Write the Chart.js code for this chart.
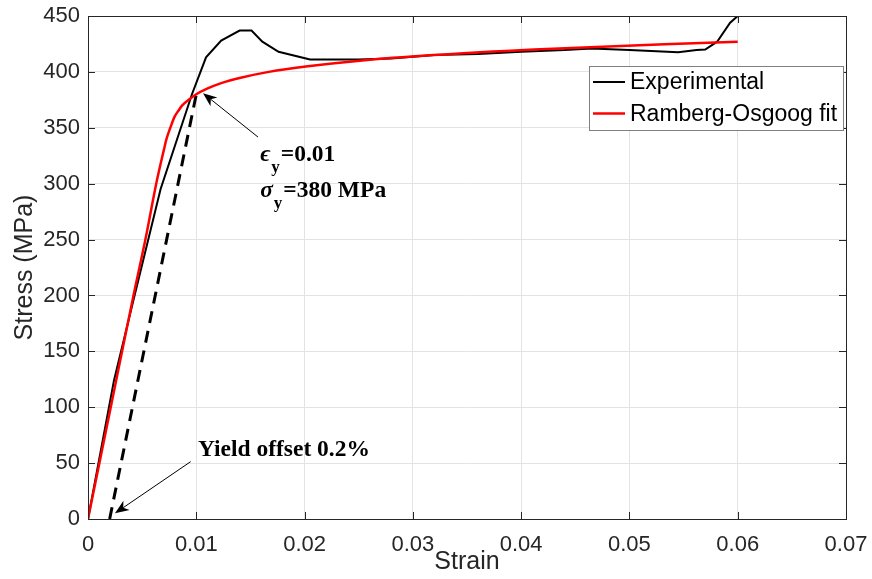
<!DOCTYPE html>
<html>
<head>
<meta charset="utf-8">
<script src="https://cdn.jsdelivr.net/npm/chart.js@4.4.0/dist/chart.umd.min.js"></script>
<style>
  html, body { margin: 0; padding: 0; background: #fff; }
  #wrap { width: 872px; height: 579px; position: relative; }
</style>
</head>
<body>
<div id="wrap"><canvas id="chart"></canvas></div>
<script>
// Experimental stress-strain curve
const expStrain = [0, 0.0024, 0.0042, 0.0067, 0.0096, 0.0109, 0.0123, 0.0140, 0.0151, 0.0161, 0.0176, 0.0205,
    0.0250, 0.0280, 0.0320, 0.0360, 0.0400, 0.0440, 0.0465, 0.0500, 0.0545, 0.0562, 0.0570, 0.0581, 0.0593, 0.0600];
const expStress = [0, 124, 196, 295, 380, 413, 428, 437, 437, 427, 418, 411,
    411, 412, 415, 416, 418, 419.5, 421, 419.5, 417.5, 419.5, 420, 427, 444, 450];

// Ramberg-Osgood fit
const fitStrain = [0, 0.0021, 0.0042, 0.0053, 0.0063, 0.00676, 0.0070, 0.00725, 0.0076, 0.0080, 0.00833, 0.0087,
    0.0093, 0.0100, 0.0110, 0.0123, 0.0142, 0.0167, 0.0203, 0.0251, 0.0319, 0.0412, 0.0539, 0.0600];
const fitStress = [0, 100, 200, 250, 300, 320, 330, 340, 350, 360, 365, 370,
    375, 380, 385, 390, 395, 400, 405, 410, 415, 420, 425, 427];

// 0.2% offset line up to the yield point
const offsetStrain = [0.002, 0.01];
const offsetStress = [0, 380];

const xTicks = [0, 0.01, 0.02, 0.03, 0.04, 0.05, 0.06, 0.07];
const xTickLabels = ['0', '0.01', '0.02', '0.03', '0.04', '0.05', '0.06', '0.07'];
const yTicks = [0, 50, 100, 150, 200, 250, 300, 350, 400, 450];
const yTickLabels = ['0', '50', '100', '150', '200', '250', '300', '350', '400', '450'];

const toPoints = (xs, ys) => xs.map((x, i) => ({ x: x, y: ys[i] }));

const AXIS = '#262626';
const SANS = '"Liberation Sans", Arial, sans-serif';
const SERIF = '"Liberation Serif", "DejaVu Serif", serif';

// annotation anchors in data units
const epsText = { at: [0.0159, 320.5], sym: 'ϵ', sub: 'y', rest: '=0.01' };
const sigText = { at: [0.0159, 288.3], sym: 'σ', sub: 'y', rest: '=380 MPa' };
const yieldText = { at: [0.01015, 56.5], text: 'Yield offset 0.2%' };
const arrows = [
    { from: [0.0157, 341.7], to: [0.01062, 381] },
    { from: [0.00948, 51.3], to: [0.00249, 5.1] }
];

function drawArrow(ctx, x1, y1, x2, y2) {
    const ang = Math.atan2(y2 - y1, x2 - x1);
    const len = 14, half = 5.5, notch = 10;
    ctx.beginPath();
    ctx.moveTo(x1, y1);
    ctx.lineTo(x2 - Math.cos(ang) * notch, y2 - Math.sin(ang) * notch);
    ctx.stroke();
    ctx.save();
    ctx.translate(x2, y2);
    ctx.rotate(ang);
    ctx.beginPath();
    ctx.moveTo(0, 0);
    ctx.lineTo(-len, -half);
    ctx.lineTo(-notch, 0);
    ctx.lineTo(-len, half);
    ctx.closePath();
    ctx.fill();
    ctx.restore();
}

function drawSubLabel(ctx, x, y, t) {
    ctx.font = 'italic bold 23.5px ' + SERIF;
    ctx.fillText(t.sym, x, y);
    x += ctx.measureText(t.sym).width + 1;
    ctx.font = 'bold 17px ' + SERIF;
    ctx.fillText(t.sub, x, y + 11);
    x += ctx.measureText(t.sub).width + 1;
    ctx.font = 'bold 23.5px ' + SERIF;
    ctx.fillText(t.rest, x, y);
}

// box, inward ticks, annotations and legend
const extras = {
    id: 'extras',
    afterDatasetsDraw(chart) {
        const { ctx, chartArea: a, scales } = chart;
        const sx = scales.x, sy = scales.y;
        const tick = 7;
        ctx.save();
        ctx.strokeStyle = AXIS;
        ctx.lineWidth = 1;
        ctx.beginPath();
        xTicks.forEach(v => {
            const px = Math.round(sx.getPixelForValue(v)) + 0.5;
            ctx.moveTo(px, a.bottom); ctx.lineTo(px, a.bottom - tick);
            ctx.moveTo(px, a.top); ctx.lineTo(px, a.top + tick);
        });
        yTicks.forEach(v => {
            const py = Math.round(sy.getPixelForValue(v)) + 0.5;
            ctx.moveTo(a.left, py); ctx.lineTo(a.left + tick, py);
            ctx.moveTo(a.right, py); ctx.lineTo(a.right - tick, py);
        });
        ctx.stroke();
        ctx.strokeRect(Math.round(a.left) + 0.5, Math.round(a.top) + 0.5,
            Math.round(a.right - a.left), Math.round(a.bottom - a.top));

        // arrows
        ctx.strokeStyle = '#000';
        ctx.fillStyle = '#000';
        ctx.lineWidth = 1;
        arrows.forEach(ar => {
            drawArrow(ctx, sx.getPixelForValue(ar.from[0]), sy.getPixelForValue(ar.from[1]),
                sx.getPixelForValue(ar.to[0]), sy.getPixelForValue(ar.to[1]));
        });

        // text labels
        ctx.textBaseline = 'alphabetic';
        ctx.textAlign = 'left';
        [epsText, sigText].forEach(t => {
            drawSubLabel(ctx, sx.getPixelForValue(t.at[0]), sy.getPixelForValue(t.at[1]), t);
        });
        ctx.font = 'bold 23.5px ' + SERIF;
        ctx.fillText(yieldText.text, sx.getPixelForValue(yieldText.at[0]), sy.getPixelForValue(yieldText.at[1]));

        // legend
        const items = chart.data.datasets.filter(d => d.legendPos !== undefined)
            .sort((p, q) => p.legendPos - q.legendPos);
        const bx = a.right - 257, by = a.top + 50, bw = 254, bh = 64;
        ctx.fillStyle = '#fff';
        ctx.fillRect(bx, by, bw, bh);
        ctx.strokeStyle = '#808080';
        ctx.strokeRect(bx + 0.5, by + 0.5, bw, bh);
        ctx.font = '23px ' + SANS;
        ctx.textBaseline = 'middle';
        items.forEach((d, i) => {
            const ly = by + 16 + i * 31.5;
            ctx.strokeStyle = d.borderColor;
            ctx.lineWidth = d.borderWidth;
            ctx.beginPath();
            ctx.moveTo(bx + 4, ly);
            ctx.lineTo(bx + 36, ly);
            ctx.stroke();
            ctx.fillStyle = '#000';
            ctx.fillText(d.label, bx + 41, ly + 1);
        });
        ctx.restore();
    }
};

new Chart(document.getElementById('chart'), {
    type: 'scatter',
    data: {
        datasets: [
            {
                label: 'Ramberg-Osgoog fit', data: toPoints(fitStrain, fitStress), showLine: true, legendPos: 1,
                borderColor: '#ff0000', borderWidth: 2.5, pointRadius: 0, cubicInterpolationMode: 'monotone', order: 0
            },
            {
                label: 'Experimental', data: toPoints(expStrain, expStress), showLine: true, legendPos: 0,
                borderColor: '#000000', borderWidth: 2, pointRadius: 0, tension: 0, order: 1
            },
            {
                label: 'offset', data: toPoints(offsetStrain, offsetStress), showLine: true,
                borderColor: '#000000', borderWidth: 3, borderDash: [12, 8], pointRadius: 0, order: 2
            }
        ]
    },
    options: {
        responsive: true,
        maintainAspectRatio: false,
        animation: false,
        events: [],
        layout: { padding: { top: 16, right: 26, left: 0, bottom: 0 } },
        plugins: { legend: { display: false }, tooltip: { enabled: false } },
        scales: {
            x: {
                type: 'linear', min: 0, max: 0.07,
                afterBuildTicks: s => { s.ticks = xTicks.map(v => ({ value: v })); },
                afterFit: s => { s.height = 60; s.paddingLeft = 0; s.paddingRight = 0; },
                ticks: {
                    callback: (v, i) => xTickLabels[i],
                    color: AXIS, font: { family: SANS, size: 22 }, padding: 13, maxRotation: 0
                },
                grid: { color: '#e3e3e3', drawTicks: false },
                border: { display: true, color: AXIS },
                title: { display: true, text: 'Strain', color: AXIS, font: { family: SANS, size: 25 }, padding: { top: 0, bottom: 2 } }
            },
            y: {
                type: 'linear', min: 0, max: 450,
                afterBuildTicks: s => { s.ticks = yTicks.map(v => ({ value: v })); },
                afterFit: s => { s.width = 88; s.paddingTop = 0; s.paddingBottom = 0; },
                ticks: {
                    callback: (v, i) => yTickLabels[i],
                    color: AXIS, font: { family: SANS, size: 22 }, padding: 8
                },
                grid: { color: '#e3e3e3', drawTicks: false },
                border: { display: true, color: AXIS },
                title: { display: true, text: 'Stress (MPa)', color: AXIS, font: { family: SANS, size: 25 }, padding: { top: 10, bottom: 0 } }
            }
        }
    },
    plugins: [extras]
});
</script>
</body>
</html>
